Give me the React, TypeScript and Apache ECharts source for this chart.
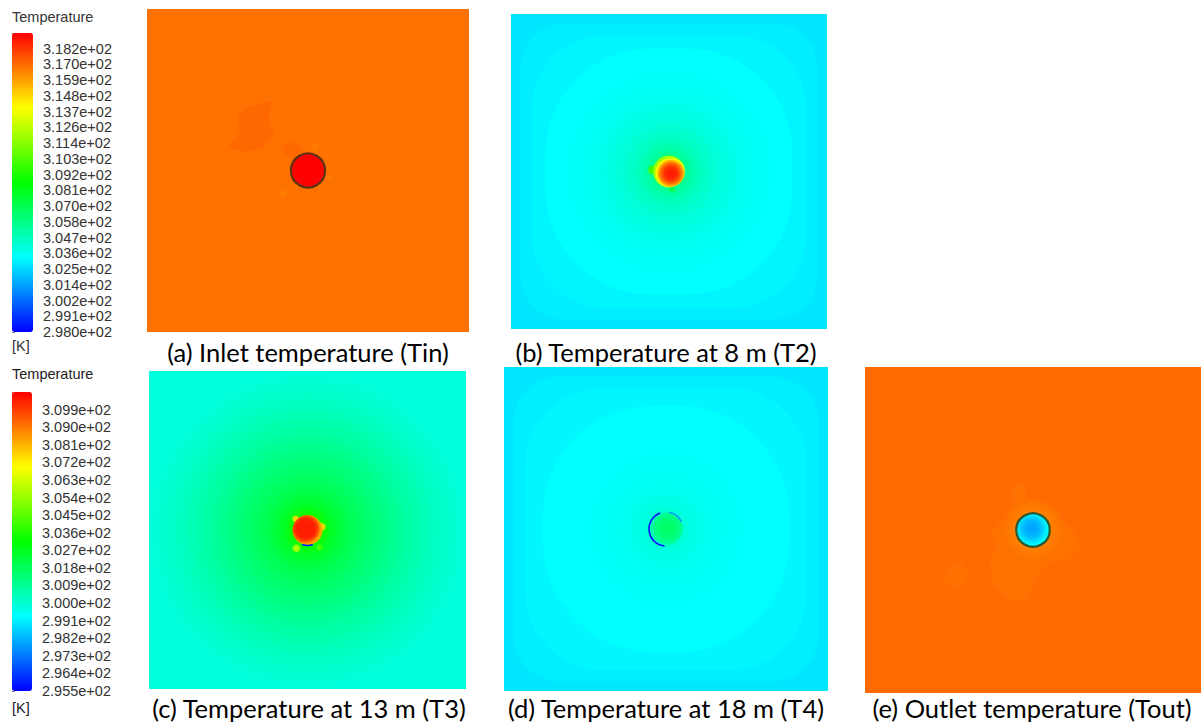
import React, { useEffect, useRef } from 'react';
import * as echarts from 'echarts';

type Pt = [number, number];

// Fluent-style rainbow colour map, cold → hot
const RAINBOW = ['#0000ff', '#00ffff', '#00ff00', '#ffff00', '#ff0000'];

// Colour-bar tick labels, bottom → top
const upperTicks = [
  '2.980e+02', '2.991e+02', '3.002e+02', '3.014e+02', '3.025e+02', '3.036e+02', '3.047e+02',
  '3.058e+02', '3.070e+02', '3.081e+02', '3.092e+02', '3.103e+02', '3.114e+02', '3.126e+02',
  '3.137e+02', '3.148e+02', '3.159e+02', '3.170e+02', '3.182e+02',
];
const lowerTicks = [
  '2.955e+02', '2.964e+02', '2.973e+02', '2.982e+02', '2.991e+02', '3.000e+02', '3.009e+02',
  '3.018e+02', '3.027e+02', '3.036e+02', '3.045e+02', '3.054e+02', '3.063e+02', '3.072e+02',
  '3.081e+02', '3.090e+02', '3.099e+02',
];

// Colour-bar limits [K] (the bar runs one label step past the top label)
const upperRange = [298.0, 319.32];
const lowerRange = [295.5, 310.8];

// ---- (a) inlet plane ----
// contour bands: [T, half size, corner rounding]
const tinBands = [[316.96, 1, 0]];
// patches: [T, outline]
const tinBlobs: [number, Pt[]][] = [
  [317.17, [[-0.433, 0.345], [-0.36, 0.396], [-0.225, 0.427], [-0.246, 0.314], [-0.215, 0.231],
    [-0.278, 0.148], [-0.381, 0.117], [-0.489, 0.148], [-0.422, 0.241]]],
  [317.12, [[-0.163, 0.138], [-0.091, 0.179], [-0.029, 0.117], [-0.07, 0.065], [-0.132, 0.086]]],
];
// radial profile around the pipe: [r, T]
const tinRadial: Pt[] = [];
// small soft spots: [T, x, y, r]
const tinSpots = [[316.7, -0.155, -0.14, 0.03], [316.75, 0.137, -0.04, 0.025], [316.75, 0.04, 0.146, 0.03]];
// pipe cross-section profile: [r, T]
const tinPipe: Pt[] = [[0, 319.3], [0.106, 319.3]];
// wall arcs: [T, start deg, end deg, r]
const tinArcs: number[][] = [];

// ---- (b) 8 m ----
const t2Bands = [[302.8, 1, 0], [302.98, 0.94, 0.3], [303.15, 0.87, 0.55], [303.33, 0.78, 0.85]];
const t2Blobs: [number, Pt[]][] = [];
const t2Radial: Pt[] = [[0.1, 305.8], [0.14, 305.2], [0.2, 304.65], [0.3, 304.15], [0.42, 303.75], [0.55, 303.5], [0.7, 303.33]];
const t2Spots = [[310.0, -0.105, 0.01, 0.035], [306.9, 0.02, -0.115, 0.025]];
const t2Pipe: Pt[] = [[0, 318.9], [0.04, 318.4], [0.065, 317.0], [0.08, 315.6], [0.092, 314.0], [0.101, 312.0]];
const t2Arcs: number[][] = [];

// ---- (c) 13 m ----
const t3Bands = [[299.85, 1, 0]];
const t3Blobs: [number, Pt[]][] = [];
const t3Radial: Pt[] = [[0.095, 303.3], [0.15, 302.6], [0.25, 302.0], [0.4, 301.45], [0.6, 300.8], [0.8, 300.25], [1.0, 299.85]];
const t3Spots = [[305.8, -0.07, -0.115, 0.03], [304.2, 0.075, -0.11, 0.025], [307.5, -0.075, 0.07, 0.025], [307.5, 0.09, 0.02, 0.03]];
const t3Pipe: Pt[] = [[0, 310.4], [0.06, 310.3], [0.08, 309.6], [0.095, 308.3]];
const t3Arcs = [[295.9, 250, 290, 0.098]];

// ---- (d) 18 m ----
const t4Bands = [[298.95, 1, 0], [299.08, 0.94, 0.3], [299.2, 0.87, 0.55], [299.33, 0.76, 0.9]];
const t4Blobs: [number, Pt[]][] = [];
const t4Radial: Pt[] = [[0.1, 299.95], [0.15, 299.75], [0.25, 299.55], [0.4, 299.42], [0.55, 299.33]];
const t4Spots: number[][] = [];
const t4Pipe: Pt[] = [[0, 301.7], [0.06, 301.4], [0.09, 300.9], [0.105, 300.2]];
const t4Arcs = [[295.7, 110, 265, 0.105], [297.8, 25, 80, 0.105]];

// ---- (e) outlet plane ----
const toutBands = [[309.2, 1, 0]];
const toutBlobs: [number, Pt[]][] = [
  [309.1, [[-0.127, 0.266], [-0.058, 0.287], [-0.018, 0.143], [0.121, 0.082], [0.22, 0.02], [0.28, -0.102],
    [0.2, -0.184], [0.101, -0.204], [0.022, -0.287], [-0.038, -0.429], [-0.137, -0.429], [-0.236, -0.327],
    [-0.256, -0.184], [-0.216, -0.102], [-0.256, -0.02], [-0.177, 0.061], [-0.117, 0.143]]],
  [309.12, [[-0.534, -0.287], [-0.435, -0.194], [-0.385, -0.287], [-0.474, -0.368]]],
];
const toutRadial: Pt[] = [[0.1, 308.85], [0.13, 308.95], [0.18, 309.1]];
const toutSpots: number[][] = [];
const toutPipe: Pt[] = [[0, 297.9], [0.045, 298.2], [0.08, 298.9], [0.1, 299.4]];
const toutArcs: number[][] = [];

const captions = [
  '(a) Inlet temperature (Tin)',
  '(b) Temperature at 8 m (T2)',
  '(c) Temperature at 13 m (T3)',
  '(d) Temperature at 18 m (T4)',
  '(e) Outlet temperature (Tout)',
];

const LEGEND_FONT = '"Liberation Sans", Arial, sans-serif';
const CAPTION_FONT = 'Lato, "Open Sans", sans-serif';

interface Panel {
  grid: { left: number; top: number; width: number; height: number };
  range: number[];
  bands: number[][];
  blobs: [number, Pt[]][];
  radial: Pt[];
  spots: number[][];
  pipe: Pt[];
  pipeShift: Pt;
  arcs: number[][];
  wall?: string;
  caption: string;
  captionAt: Pt;
}

const panels: Panel[] = [
  { grid: { left: 147, top: 9, width: 322, height: 323 }, range: upperRange, bands: tinBands, blobs: tinBlobs,
    radial: tinRadial, spots: tinSpots, pipe: tinPipe, pipeShift: [0, 0], arcs: tinArcs, wall: '#5c3315',
    caption: captions[0], captionAt: [308, 352] },
  { grid: { left: 511, top: 14, width: 316, height: 315 }, range: upperRange, bands: t2Bands, blobs: t2Blobs,
    radial: t2Radial, spots: t2Spots, pipe: t2Pipe, pipeShift: [0.012, -0.012], arcs: t2Arcs,
    caption: captions[1], captionAt: [666, 352] },
  { grid: { left: 149, top: 371, width: 317, height: 318 }, range: lowerRange, bands: t3Bands, blobs: t3Blobs,
    radial: t3Radial, spots: t3Spots, pipe: t3Pipe, pipeShift: [-0.012, 0.008], arcs: t3Arcs,
    caption: captions[2], captionAt: [309, 708] },
  { grid: { left: 504, top: 367, width: 324, height: 324 }, range: lowerRange, bands: t4Bands, blobs: t4Blobs,
    radial: t4Radial, spots: t4Spots, pipe: t4Pipe, pipeShift: [0.01, 0.005], arcs: t4Arcs,
    caption: captions[3], captionAt: [666, 708] },
  { grid: { left: 865, top: 367, width: 336, height: 326 }, range: lowerRange, bands: toutBands, blobs: toutBlobs,
    radial: toutRadial, spots: toutSpots, pipe: toutPipe, pipeShift: [-0.008, 0.008], arcs: toutArcs, wall: '#2f5530',
    caption: captions[4], captionAt: [1032, 708] },
];

function tempColor(t: number, range: number[]): string {
  const f = Math.min(1, Math.max(0, (t - range[0]) / (range[1] - range[0])));
  return echarts.color.lerp(f, RAINBOW) as string;
}

function buildOption() {
  const grids: any[] = [
    { left: 12, top: 33, width: 21, height: 299 },
    { left: 12, top: 392, width: 20, height: 299 },
  ];
  const xAxes: any[] = [
    { gridIndex: 0, type: 'value', show: false },
    { gridIndex: 1, type: 'value', show: false },
  ];
  const scaleAxis = (gridIndex: number, labels: string[]) => ({
    gridIndex,
    type: 'value',
    position: 'right',
    min: 0,
    max: labels.length,
    interval: 1,
    axisLine: { show: false },
    axisTick: { show: true, length: 3, lineStyle: { color: '#8a8a8a' } },
    minorTick: { show: true, splitNumber: 4, length: 2, lineStyle: { color: '#aaaaaa' } },
    splitLine: { show: false },
    axisLabel: {
      margin: 10,
      fontSize: 14.5,
      color: '#333',
      fontFamily: LEGEND_FONT,
      formatter: (v: number) => labels[Math.round(v)] ?? '',
    },
  });
  const yAxes: any[] = [scaleAxis(0, upperTicks), scaleAxis(1, lowerTicks)];

  const series: any[] = [];
  const upperSeries: number[] = [];
  const lowerSeries: number[] = [];

  panels.forEach((p, i) => {
    const gi = i + 2;
    grids.push({ ...p.grid });
    xAxes.push({ gridIndex: gi, type: 'value', min: -1, max: 1, show: false });
    yAxes.push({ gridIndex: gi, type: 'value', min: -1, max: 1, show: false });
    const ref = { type: 'custom', xAxisIndex: gi, yAxisIndex: gi, silent: true };
    const mapped = p.range === upperRange ? upperSeries : lowerSeries;

    // contour bands (outer square → rounded squares)
    mapped.push(series.length);
    series.push({
      ...ref,
      data: p.bands,
      renderItem: (_: any, api: any) => {
        const c = api.coord([0, 0]);
        const half = api.value(1);
        const sx = api.size([half, 0])[0];
        const sy = api.size([0, half])[1];
        return {
          type: 'rect',
          shape: { x: c[0] - sx, y: c[1] - sy, width: 2 * sx, height: 2 * sy, r: api.value(2) * Math.min(sx, sy) },
          style: { fill: api.visual('color') },
        };
      },
    });

    // irregular patches
    mapped.push(series.length);
    series.push({
      ...ref,
      data: p.blobs.map((b, k) => [b[0], k]),
      renderItem: (_: any, api: any) => {
        const pts = p.blobs[api.value(1)][1].map((q) => api.coord(q));
        return { type: 'polygon', shape: { points: pts, smooth: 0.2 }, style: { fill: api.visual('color') } };
      },
    });

    // smooth radial field around the pipe
    series.push({
      ...ref,
      data: p.radial.length ? [[0, 0]] : [],
      renderItem: (_: any, api: any) => {
        const c = api.coord([0, 0]);
        const rMax = p.radial[p.radial.length - 1][0];
        const R = api.size([rMax, 0])[0];
        const stops = p.radial.map(([r, t]) => ({ offset: r / rMax, color: tempColor(t, p.range) }));
        stops.unshift({ offset: 0, color: stops[0].color });
        return {
          type: 'circle',
          shape: { cx: c[0], cy: c[1], r: R },
          style: { fill: { type: 'radial', x: 0.5, y: 0.5, r: 0.5, colorStops: stops } },
        };
      },
    });

    // small soft spots
    series.push({
      ...ref,
      data: p.spots,
      renderItem: (_: any, api: any) => {
        const c = api.coord([api.value(1), api.value(2)]);
        const R = api.size([api.value(3), 0])[0];
        const col = tempColor(api.value(0), p.range);
        return {
          type: 'circle',
          shape: { cx: c[0], cy: c[1], r: R },
          style: {
            fill: {
              type: 'radial', x: 0.5, y: 0.5, r: 0.5,
              colorStops: [
                { offset: 0, color: col },
                { offset: 0.5, color: col },
                { offset: 1, color: echarts.color.modifyAlpha(col, 0) },
              ],
            },
          },
        };
      },
    });

    // pipe cross-section
    series.push({
      ...ref,
      data: [[0, 0]],
      renderItem: (_: any, api: any) => {
        const c = api.coord([0, 0]);
        const rMax = p.pipe[p.pipe.length - 1][0];
        const R = api.size([rMax, 0])[0];
        const stops = p.pipe.map(([r, t]) => ({ offset: r / rMax, color: tempColor(t, p.range) }));
        const children: any[] = [
          {
            type: 'circle',
            shape: { cx: c[0], cy: c[1], r: R },
            style: {
              fill: {
                type: 'radial',
                x: 0.5 + p.pipeShift[0] / (2 * rMax),
                y: 0.5 - p.pipeShift[1] / (2 * rMax),
                r: 0.5,
                colorStops: stops,
              },
            },
          },
        ];
        if (p.wall) {
          children.push({
            type: 'circle',
            shape: { cx: c[0], cy: c[1], r: R },
            style: { fill: 'none', stroke: p.wall, lineWidth: 2.2 },
          });
        }
        return { type: 'group', children };
      },
    });

    // thin wall arcs
    mapped.push(series.length);
    series.push({
      ...ref,
      data: p.arcs,
      renderItem: (_: any, api: any) => {
        const c = api.coord([0, 0]);
        const R = api.size([api.value(3), 0])[0];
        const a1 = (api.value(1) * Math.PI) / 180;
        const a2 = (api.value(2) * Math.PI) / 180;
        return {
          type: 'arc',
          shape: { cx: c[0], cy: c[1], r: R, startAngle: -a1, endAngle: -a2, clockwise: false },
          style: { fill: 'none', stroke: api.visual('color'), lineWidth: 1.6 },
        };
      },
    });
  });

  const graphic: any[] = [
    { type: 'text', x: 12, y: 17, style: { text: 'Temperature', font: `14.5px ${LEGEND_FONT}`, fill: '#333', verticalAlign: 'middle' } },
    { type: 'text', x: 12, y: 346, style: { text: '[K]', font: `14.5px ${LEGEND_FONT}`, fill: '#333', verticalAlign: 'middle' } },
    { type: 'text', x: 12, y: 374, style: { text: 'Temperature', font: `14.5px ${LEGEND_FONT}`, fill: '#222', verticalAlign: 'middle' } },
    { type: 'text', x: 12, y: 708, style: { text: '[K]', font: `14.5px ${LEGEND_FONT}`, fill: '#222', verticalAlign: 'middle' } },
    ...panels.map((p) => ({
      type: 'text',
      x: p.captionAt[0],
      y: p.captionAt[1],
      style: { text: p.caption, font: `25.5px ${CAPTION_FONT}`, fill: '#000', align: 'center', verticalAlign: 'middle' },
    })),
  ];

  const bar = (range: number[], top: number, width: number, seriesIndex: number[]) => ({
    type: 'continuous',
    min: range[0],
    max: range[1],
    dimension: 0,
    seriesIndex,
    inRange: { color: RAINBOW },
    left: 12,
    top,
    itemWidth: width,
    itemHeight: 299,
    padding: 0,
    calculable: false,
    hoverLink: false,
    show: true,
  });

  return {
    animation: false,
    backgroundColor: '#ffffff',
    grid: grids,
    xAxis: xAxes,
    yAxis: yAxes,
    visualMap: [bar(upperRange, 33, 21, upperSeries), bar(lowerRange, 392, 20, lowerSeries)],
    graphic,
    series,
  };
}

export default function App() {
  const ref = useRef<HTMLDivElement>(null);
  useEffect(() => {
    const chart = echarts.init(ref.current!, null, { renderer: 'svg' });
    chart.setOption(buildOption() as any);
    return () => chart.dispose();
  }, []);
  return (
    <div
      ref={ref}
      style={{ position: 'fixed', left: 0, top: 0, width: 1201, height: 727, background: '#fff' }}
    />
  );
}
